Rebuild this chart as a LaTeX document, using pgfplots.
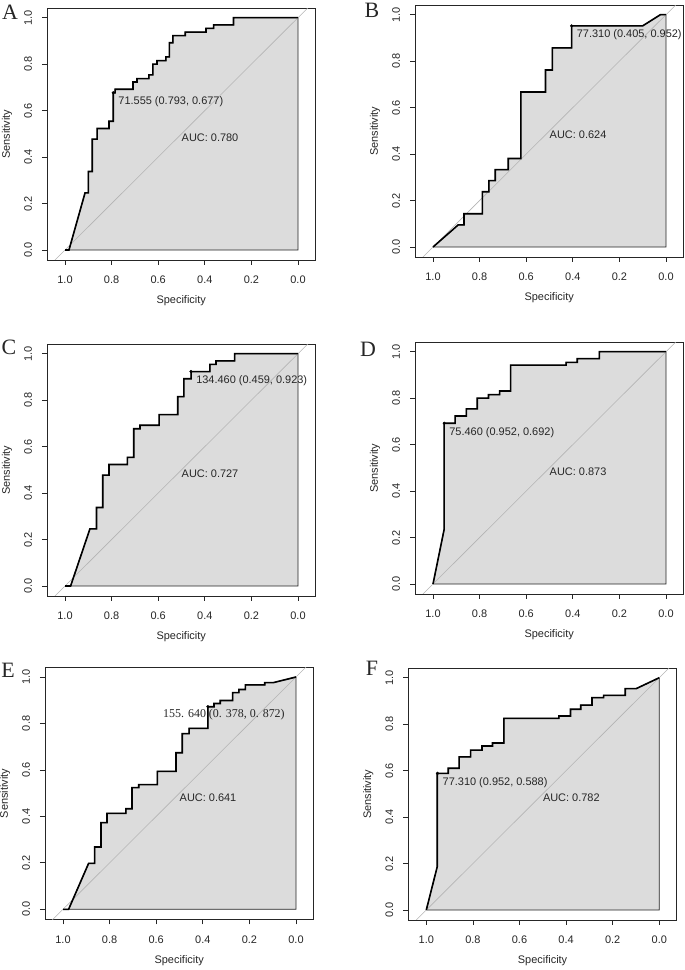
\documentclass[border=0pt]{standalone}
\usepackage{pgfplots}
\pgfplotsset{compat=1.18}
\usepackage{fontspec}
\setmainfont{Liberation Sans}
\newfontfamily\seriffont{Liberation Serif}
\definecolor{polyfill}{HTML}{DCDCDC}
\definecolor{diag}{HTML}{B4B4B4}
\definecolor{ink}{HTML}{262626}
\newcommand{\lab}{\fontsize{11}{13}\selectfont}
\newcommand{\letterfont}{\seriffont\fontsize{22}{22}\selectfont}
\pgfplotsset{rocax/.style={
  scale only axis, width=268.5bp, height=251.5bp,
  x dir=reverse, xmin=-0.0751, xmax=1.0773, ymin=-0.043, ymax=1.0396,
  xtick={0,0.2,0.4,0.6,0.8,1}, ytick={0,0.2,0.4,0.6,0.8,1},
  xtick pos=left, ytick pos=left, tick align=outside, major tick length=5bp,
  tick style={ink, line width=0.75bp},
  axis line style={ink, line width=0.75bp},
  tick label style={font=\lab, text=ink},
  xticklabel style={anchor=center},
  yticklabel style={rotate=90, anchor=center},
  xticklabel shift=15bp, yticklabel shift=14bp,
  /pgf/number format/fixed, /pgf/number format/fixed zerofill,
  /pgf/number format/precision=1, /pgf/number format/assume math mode=true,
  anchor=south west,
}}
\tikzset{thr/.style={anchor=north west, inner sep=0pt, xshift=5bp, yshift=-3.8bp, font=\lab, text=ink},
  auc/.style={anchor=north west, inner sep=0pt, font=\lab, text=ink}}
\begin{document}
\begin{tikzpicture}
\path[use as bounding box] (0,0) rectangle (685bp,970bp);
% ---------------- A
\begin{axis}[rocax, name=A, at={(47bp,710bp)}]
\addplot[draw=ink, line width=0.75bp, fill=polyfill] coordinates {(1,0) (0.983,0) (0.914,0.246) (0.900,0.246) (0.900,0.338) (0.883,0.338) (0.883,0.477) (0.862,0.477) (0.862,0.523) (0.811,0.523) (0.811,0.554) (0.793,0.554) (0.793,0.677) (0.785,0.677) (0.785,0.692) (0.708,0.692) (0.708,0.723) (0.691,0.723) (0.691,0.738) (0.640,0.738) (0.640,0.754) (0.623,0.754) (0.623,0.800) (0.605,0.800) (0.605,0.815) (0.567,0.815) (0.567,0.831) (0.552,0.831) (0.552,0.892) (0.537,0.892) (0.537,0.923) (0.484,0.923) (0.484,0.938) (0.395,0.938) (0.395,0.954) (0.362,0.954) (0.362,0.969) (0.277,0.969) (0.277,1) (0,1) (0,0) (1,0)};
\addplot[diag, line width=0.6bp] coordinates {(1.2,-0.2) (-0.2,1.2)};
\addplot[black, line width=1.6bp] coordinates {(1,0) (0.983,0) (0.914,0.246) (0.900,0.246) (0.900,0.338) (0.883,0.338) (0.883,0.477) (0.862,0.477) (0.862,0.523) (0.811,0.523) (0.811,0.554) (0.793,0.554) (0.793,0.677) (0.785,0.677) (0.785,0.692) (0.708,0.692) (0.708,0.723) (0.691,0.723) (0.691,0.738) (0.640,0.738) (0.640,0.754) (0.623,0.754) (0.623,0.800) (0.605,0.800) (0.605,0.815) (0.567,0.815) (0.567,0.831) (0.552,0.831) (0.552,0.892) (0.537,0.892) (0.537,0.923) (0.484,0.923) (0.484,0.938) (0.395,0.938) (0.395,0.954) (0.362,0.954) (0.362,0.969) (0.277,0.969) (0.277,1) (0,1)};
\addplot[only marks, mark=*, mark size=1.4bp, black] coordinates {(0.793,0.677)};
\node[thr] at (axis cs:0.793,0.677) {71.555 (0.793, 0.677)};
\node[auc] at (axis cs:0.5,0.5) {AUC: 0.780};
\end{axis}
% ---------------- B
\begin{axis}[rocax, name=B, at={(415bp,713bp)}]
\addplot[draw=ink, line width=0.75bp, fill=polyfill] coordinates {(1,0) (0.892,0.095) (0.867,0.095) (0.867,0.143) (0.788,0.143) (0.788,0.238) (0.760,0.238) (0.760,0.286) (0.733,0.286) (0.733,0.333) (0.677,0.333) (0.677,0.381) (0.623,0.381) (0.623,0.667) (0.517,0.667) (0.517,0.762) (0.488,0.762) (0.488,0.857) (0.405,0.857) (0.405,0.952) (0.100,0.952) (0.024,1) (0,1) (0,0) (1,0)};
\addplot[diag, line width=0.6bp] coordinates {(1.2,-0.2) (-0.2,1.2)};
\addplot[black, line width=1.6bp] coordinates {(1,0) (0.892,0.095) (0.867,0.095) (0.867,0.143) (0.788,0.143) (0.788,0.238) (0.760,0.238) (0.760,0.286) (0.733,0.286) (0.733,0.333) (0.677,0.333) (0.677,0.381) (0.623,0.381) (0.623,0.667) (0.517,0.667) (0.517,0.762) (0.488,0.762) (0.488,0.857) (0.405,0.857) (0.405,0.952) (0.100,0.952) (0.024,1) (0,1)};
\addplot[only marks, mark=*, mark size=1.4bp, black] coordinates {(0.405,0.952)};
\node[thr] at (axis cs:0.405,0.952) {77.310 (0.405, 0.952)};
\node[auc] at (axis cs:0.5,0.5) {AUC: 0.624};
\end{axis}
% ---------------- C
\begin{axis}[rocax, name=C, at={(47bp,374bp)}]
\addplot[draw=ink, line width=0.75bp, fill=polyfill] coordinates {(1,0) (0.976,0) (0.893,0.246) (0.865,0.246) (0.865,0.338) (0.838,0.338) (0.838,0.477) (0.811,0.477) (0.811,0.523) (0.732,0.523) (0.732,0.554) (0.705,0.554) (0.705,0.677) (0.678,0.677) (0.678,0.692) (0.596,0.692) (0.596,0.738) (0.516,0.738) (0.516,0.815) (0.490,0.815) (0.490,0.892) (0.459,0.892) (0.459,0.923) (0.378,0.923) (0.378,0.954) (0.352,0.954) (0.352,0.969) (0.272,0.969) (0.272,1) (0,1) (0,0) (1,0)};
\addplot[diag, line width=0.6bp] coordinates {(1.2,-0.2) (-0.2,1.2)};
\addplot[black, line width=1.6bp] coordinates {(1,0) (0.976,0) (0.893,0.246) (0.865,0.246) (0.865,0.338) (0.838,0.338) (0.838,0.477) (0.811,0.477) (0.811,0.523) (0.732,0.523) (0.732,0.554) (0.705,0.554) (0.705,0.677) (0.678,0.677) (0.678,0.692) (0.596,0.692) (0.596,0.738) (0.516,0.738) (0.516,0.815) (0.490,0.815) (0.490,0.892) (0.459,0.892) (0.459,0.923) (0.378,0.923) (0.378,0.954) (0.352,0.954) (0.352,0.969) (0.272,0.969) (0.272,1) (0,1)};
\addplot[only marks, mark=*, mark size=1.4bp, black] coordinates {(0.459,0.923)};
\node[thr] at (axis cs:0.459,0.923) {134.460 (0.459, 0.923)};
\node[auc] at (axis cs:0.5,0.5) {AUC: 0.727};
\end{axis}
% ---------------- D
\begin{axis}[rocax, name=D, at={(415bp,376bp)}]
\addplot[draw=ink, line width=0.75bp, fill=polyfill] coordinates {(1,0) (0.952,0.236) (0.952,0.692) (0.905,0.692) (0.905,0.723) (0.857,0.723) (0.857,0.754) (0.810,0.754) (0.810,0.800) (0.762,0.800) (0.762,0.815) (0.714,0.815) (0.714,0.831) (0.667,0.831) (0.667,0.942) (0.429,0.942) (0.429,0.954) (0.381,0.954) (0.381,0.970) (0.286,0.970) (0.286,1) (0,1) (0,0) (1,0)};
\addplot[diag, line width=0.6bp] coordinates {(1.2,-0.2) (-0.2,1.2)};
\addplot[black, line width=1.6bp] coordinates {(1,0) (0.952,0.236) (0.952,0.692) (0.905,0.692) (0.905,0.723) (0.857,0.723) (0.857,0.754) (0.810,0.754) (0.810,0.800) (0.762,0.800) (0.762,0.815) (0.714,0.815) (0.714,0.831) (0.667,0.831) (0.667,0.942) (0.429,0.942) (0.429,0.954) (0.381,0.954) (0.381,0.970) (0.286,0.970) (0.286,1) (0,1)};
\addplot[only marks, mark=*, mark size=1.4bp, black] coordinates {(0.952,0.692)};
\node[thr] at (axis cs:0.952,0.692) {75.460 (0.952, 0.692)};
\node[auc] at (axis cs:0.5,0.5) {AUC: 0.873};
\end{axis}
% ---------------- E
\begin{axis}[rocax, name=E, at={(45bp,50.7bp)}]
\addplot[draw=ink, line width=0.75bp, fill=polyfill] coordinates {(1,0) (0.976,0) (0.890,0.198) (0.864,0.198) (0.864,0.268) (0.837,0.268) (0.837,0.373) (0.811,0.373) (0.811,0.413) (0.730,0.413) (0.730,0.433) (0.704,0.433) (0.704,0.524) (0.675,0.524) (0.675,0.537) (0.595,0.537) (0.595,0.594) (0.515,0.594) (0.515,0.674) (0.488,0.674) (0.488,0.756) (0.459,0.756) (0.459,0.779) (0.378,0.779) (0.378,0.872) (0.352,0.872) (0.352,0.886) (0.325,0.886) (0.325,0.899) (0.272,0.899) (0.272,0.933) (0.245,0.933) (0.245,0.946) (0.217,0.946) (0.217,0.966) (0.134,0.966) (0.134,0.976) (0.096,0.976) (0,1) (0,0) (1,0)};
\addplot[diag, line width=0.6bp] coordinates {(1.2,-0.2) (-0.2,1.2)};
\addplot[black, line width=1.6bp] coordinates {(1,0) (0.976,0) (0.890,0.198) (0.864,0.198) (0.864,0.268) (0.837,0.268) (0.837,0.373) (0.811,0.373) (0.811,0.413) (0.730,0.413) (0.730,0.433) (0.704,0.433) (0.704,0.524) (0.675,0.524) (0.675,0.537) (0.595,0.537) (0.595,0.594) (0.515,0.594) (0.515,0.674) (0.488,0.674) (0.488,0.756) (0.459,0.756) (0.459,0.779) (0.378,0.779) (0.378,0.872) (0.352,0.872) (0.352,0.886) (0.325,0.886) (0.325,0.899) (0.272,0.899) (0.272,0.933) (0.245,0.933) (0.245,0.946) (0.217,0.946) (0.217,0.966) (0.134,0.966) (0.134,0.976) (0.096,0.976) (0,1)};
\addplot[only marks, mark=*, mark size=1.4bp, black] coordinates {(0.378,0.872)};
\node[anchor=west, inner sep=0pt, font=\seriffont\fontsize{12}{14}\selectfont, text=ink] at (axis cs:0.571,0.839) {155. 640 (0. 378, 0. 872)};
\node[auc] at (axis cs:0.5,0.5) {AUC: 0.641};
\end{axis}
% ---------------- F
\begin{axis}[rocax, name=F, at={(408.3bp,50bp)}]
\addplot[draw=ink, line width=0.75bp, fill=polyfill] coordinates {(1,0) (0.953,0.187) (0.953,0.588) (0.906,0.588) (0.906,0.610) (0.859,0.610) (0.859,0.659) (0.810,0.659) (0.810,0.688) (0.761,0.688) (0.761,0.706) (0.716,0.706) (0.716,0.719) (0.667,0.719) (0.667,0.825) (0.431,0.825) (0.431,0.835) (0.381,0.835) (0.381,0.864) (0.337,0.864) (0.337,0.882) (0.289,0.882) (0.289,0.914) (0.239,0.914) (0.239,0.924) (0.146,0.924) (0.146,0.953) (0.099,0.953) (0,1) (0,0) (1,0)};
\addplot[diag, line width=0.6bp] coordinates {(1.2,-0.2) (-0.2,1.2)};
\addplot[black, line width=1.6bp] coordinates {(1,0) (0.953,0.187) (0.953,0.588) (0.906,0.588) (0.906,0.610) (0.859,0.610) (0.859,0.659) (0.810,0.659) (0.810,0.688) (0.761,0.688) (0.761,0.706) (0.716,0.706) (0.716,0.719) (0.667,0.719) (0.667,0.825) (0.431,0.825) (0.431,0.835) (0.381,0.835) (0.381,0.864) (0.337,0.864) (0.337,0.882) (0.289,0.882) (0.289,0.914) (0.239,0.914) (0.239,0.924) (0.146,0.924) (0.146,0.953) (0.099,0.953) (0,1)};
\addplot[only marks, mark=*, mark size=1.4bp, black] coordinates {(0.952,0.588)};
\node[thr] at (axis cs:0.952,0.588) {77.310 (0.952, 0.588)};
\node[auc] at (axis cs:0.5,0.5) {AUC: 0.782};
\end{axis}
% ---------------- labels
\foreach \p in {A,B,D,E,F}{
  \node[font=\lab, text=ink] at ([yshift=-41bp]\p.south) {Specificity};
}
\begin{scope}
\clip (0bp,328bp) rectangle (340bp,700bp);
\node[font=\lab, text=ink] at ([yshift=-41bp]C.south) {Specificity};
\end{scope}
\foreach \p in {A,B,C,D,E,F}{
  \node[font=\lab, text=ink, rotate=90] at ([xshift=-40bp]\p.west) {Sensitivity};
}
\node[font=\letterfont, text=ink] at (10bp,958bp) {A};
\node[font=\letterfont, text=ink] at (372bp,960bp) {B};
\node[font=\letterfont, text=ink] at (9bp,623bp) {C};
\node[font=\letterfont, text=ink] at (368bp,621bp) {D};
\node[font=\letterfont, text=ink] at (8bp,300bp) {E};
\node[font=\letterfont, text=ink] at (372bp,302bp) {F};
\end{tikzpicture}
\end{document}
